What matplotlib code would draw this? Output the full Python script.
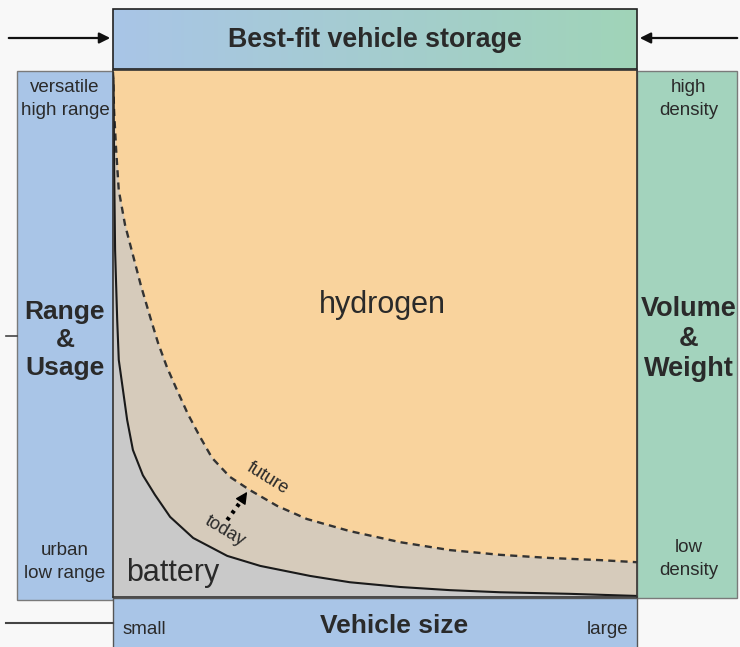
import numpy as np
import matplotlib
matplotlib.use("Agg")
import matplotlib.pyplot as plt
from matplotlib.patches import Rectangle

plt.rcParams["font.family"] = ["Liberation Sans", "DejaVu Sans"]

# curves in (vehicle size, range) units, 0..1
today_x = [0.0, 0.001, 0.002, 0.004, 0.008, 0.011, 0.019, 0.027, 0.038, 0.057,
           0.080, 0.109, 0.153, 0.218, 0.281, 0.376, 0.452, 0.548, 0.643, 0.739,
           0.872, 1.0]
today_y = [0.99, 0.98, 0.829, 0.658, 0.526, 0.450, 0.393, 0.336, 0.279, 0.231,
           0.194, 0.152, 0.112, 0.078, 0.059, 0.040, 0.028, 0.019, 0.013, 0.009,
           0.006, 0.002]
future_x = [0.0, 0.002, 0.006, 0.011, 0.023, 0.038, 0.053, 0.071, 0.086, 0.103,
            0.122, 0.143, 0.166, 0.189, 0.223, 0.261, 0.313, 0.370, 0.452, 0.548,
            0.643, 0.739, 0.834, 0.929, 1.0]
future_y = [0.996, 0.924, 0.848, 0.772, 0.706, 0.649, 0.592, 0.531, 0.482, 0.436,
            0.393, 0.347, 0.304, 0.264, 0.228, 0.203, 0.173, 0.148, 0.125, 0.104,
            0.089, 0.080, 0.074, 0.070, 0.066]

top_title = "Best-fit vehicle storage"
bottom_title = "Vehicle size"
left_labels = ["versatile\nhigh range", "Range\n&\nUsage", "urban\nlow range"]
right_labels = ["high\ndensity", "Volume\n&\nWeight", "low\ndensity"]
size_labels = ["small", "large"]

W, H = 740, 647
blue = "#a9c5e7"
green = "#a3d3bd"
orange = "#f9d39d"
tan = "#d6cbbb"
grey = "#c9c9c9"
txt = "#2a2a2a"

fig = plt.figure(figsize=(W / 100, H / 100), dpi=100)
fig.patch.set_facecolor("#f8f8f8")

# background axes in pixel coordinates for the frame boxes
bg = fig.add_axes([0, 0, 1, 1])
bg.set_xlim(0, W)
bg.set_ylim(H, 0)
bg.axis("off")

# top band with blue->green gradient
grad = np.linspace(0, 1, 256)[None, :, None]
c0 = np.array(matplotlib.colors.to_rgb(blue))
c1 = np.array(matplotlib.colors.to_rgb("#a0d4b8"))
bg.imshow(c0 + (c1 - c0) * grad, extent=(113, 637, 69, 9), aspect="auto", zorder=1)
bg.add_patch(Rectangle((113, 9), 524, 60, fill=False, ec="#222222", lw=1.2, zorder=2))
bg.text(375, 40, top_title, ha="center", va="center", fontsize=19.3,
        fontweight="bold", color=txt, zorder=3)

# side panels
bg.add_patch(Rectangle((17, 71), 96, 529, fc=blue, ec="#7a7a7a", lw=1, zorder=1))
bg.add_patch(Rectangle((637, 71), 100, 527, fc=green, ec="#7a7a7a", lw=1, zorder=1))
bg.text(65, 99, left_labels[0], ha="center", va="center", fontsize=13.5,
        color=txt, linespacing=1.4)
bg.text(65, 340, left_labels[1], ha="center", va="center", fontsize=19,
        fontweight="bold", color=txt, linespacing=1.2)
bg.text(65, 562, left_labels[2], ha="center", va="center", fontsize=13.5,
        color=txt, linespacing=1.4)
bg.text(689, 99, right_labels[0], ha="center", va="center", fontsize=13.5,
        color=txt, linespacing=1.4)
bg.text(689, 339, right_labels[1], ha="center", va="center", fontsize=19.5,
        fontweight="bold", color=txt, linespacing=1.2)
bg.text(689, 559, right_labels[2], ha="center", va="center", fontsize=13.5,
        color=txt, linespacing=1.4)

# bottom band
bg.add_patch(Rectangle((113, 598), 524, 52, fc=blue, ec="#555555", lw=1, zorder=1))
bg.text(394, 626, bottom_title, ha="center", va="center", fontsize=19,
        fontweight="bold", color=txt, zorder=3)
bg.text(123, 629, size_labels[0], ha="left", va="center", fontsize=13.5, color=txt)
bg.text(628, 629, size_labels[1], ha="right", va="center", fontsize=13.5, color=txt)

# arrows into the top band and slide lines
bg.annotate("", xy=(113, 38), xytext=(6, 38),
            arrowprops=dict(arrowstyle="-|>", color="#111111", lw=1.6, mutation_scale=16))
bg.annotate("", xy=(637, 38), xytext=(740, 38),
            arrowprops=dict(arrowstyle="-|>", color="#111111", lw=1.6, mutation_scale=16))
bg.plot([6, 113], [623, 623], color="#444444", lw=1.5)
bg.plot([6, 17], [336, 336], color="#444444", lw=1.2)

# main chart area
ax = fig.add_axes([113 / W, 1 - 597 / H, 524 / W, 527 / H])
ax.set_xlim(0, 1)
ax.set_ylim(0, 1)
ax.set_facecolor(orange)
ax.fill_between(future_x, future_y, 0, color=tan, lw=0)
ax.fill_between(today_x, today_y, 0, color=grey, lw=0)
ax.plot(future_x, future_y, color="#333333", lw=1.7, ls=(0, (3, 2.2)))
ax.plot(today_x, today_y, color="#1a1a1a", lw=1.5)
ax.set_xticks([])
ax.set_yticks([])
for s in ax.spines.values():
    s.set_color("#333333")
    s.set_linewidth(1.2)

# today -> future arrow
ax.plot([0.218, 0.248], [0.146, 0.187], color="black", lw=3, ls=(0, (0.8, 1.2)))
ax.annotate("", xy=(0.259, 0.204), xytext=(0.247, 0.186),
            arrowprops=dict(arrowstyle="-|>", color="black", lw=1, mutation_scale=18))

ax.text(0.515, 0.555, "hydrogen", ha="center", va="center", fontsize=22, color=txt)
ax.text(0.025, 0.045, "battery", ha="left", va="center", fontsize=22, color=txt)
ax.text(0.295, 0.225, "future", ha="center", va="center", fontsize=13,
        rotation=-32, rotation_mode="anchor", color=txt)
ax.text(0.213, 0.125, "today", ha="center", va="center", fontsize=13,
        rotation=-31, rotation_mode="anchor", color=txt)

fig.savefig("out.png", dpi=100, facecolor=fig.get_facecolor())
